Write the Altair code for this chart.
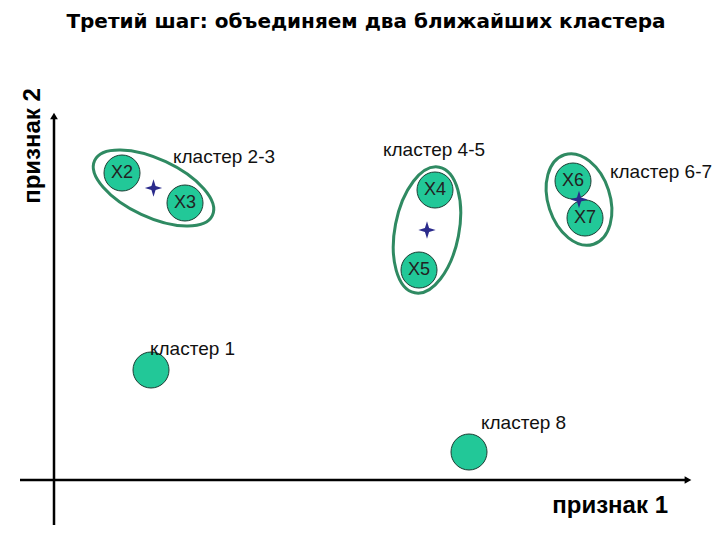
import altair as alt
import pandas as pd

# feature coordinates (origin at axes crossing)
point_names = ["X1", "X2", "X3", "X4", "X5", "X6", "X7", "X8"]
point_x = [97, 68, 131, 381, 365, 519, 531, 415]
point_y = [110, 307, 277, 290, 210, 299, 262, 28]
point_labels = ["", "X2", "X3", "X4", "X5", "X6", "X7", ""]

clusters = ["2-3", "4-5", "6-7"]
cluster_members = [["X2", "X3"], ["X4", "X5"], ["X6", "X7"]]
ell_major = [65, 64, 47]
ell_minor = [29, 32, 31]
ell_angle = [25, 101, 72]

cl_labels = ["кластер 2-3", "кластер 4-5", "кластер 6-7", "кластер 1", "кластер 8"]
cl_label_x = [119, 329, 556, 96, 427]
cl_label_y = [323, 330, 308, 131, 57]

title_text = "Третий шаг: объединяем два ближайших кластера"
xlabel = "признак  1"
ylabel = "признак 2"

pts = pd.DataFrame({"name": point_names, "x": point_x, "y": point_y, "label": point_labels})

cent_rows = []
for c, mem, a, b, ang in zip(clusters, cluster_members, ell_major, ell_minor, ell_angle):
    sub = pts[pts["name"].isin(mem)]
    r = b / a
    path = f"M -1 0 A 1 {r:.4f} 0 1 1 1 0 A 1 {r:.4f} 0 1 1 -1 0 Z"
    cent_rows.append({"cluster": c, "x": sub["x"].mean(), "y": sub["y"].mean(),
                      "path": path, "size": 4 * a * a, "angle": ang})
cent = pd.DataFrame(cent_rows)

labels = pd.DataFrame({"text": cl_labels, "x": cl_label_x, "y": cl_label_y})

xs = alt.Scale(domain=[-46, 658], nice=False, zero=False)
ys = alt.Scale(domain=[-52, 472], nice=False, zero=False)
X = lambda f: alt.X(f, scale=xs, axis=None)
Y = lambda f: alt.Y(f, scale=ys, axis=None)

axes_df = pd.DataFrame({"x": [-34, 0], "x2": [634, 0], "y": [0, -45], "y2": [0, 364]})
axis_lines = alt.Chart(axes_df).mark_rule(color="black", strokeWidth=2.5).encode(
    x=X("x:Q"), x2="x2:Q", y=Y("y:Q"), y2="y2:Q")

arrows_df = pd.DataFrame({"x": [634, 0], "y": [0, 364], "shape": ["triangle-right", "triangle-up"]})
arrows = alt.Chart(arrows_df).mark_point(filled=True, color="black", opacity=1, size=60).encode(
    x=X("x:Q"), y=Y("y:Q"), shape=alt.Shape("shape:N", scale=None))

ellipses = alt.Chart(cent).mark_point(filled=False, stroke="#2f8a62", strokeWidth=3, opacity=1).encode(
    x=X("x:Q"), y=Y("y:Q"), shape=alt.Shape("path:N", scale=None),
    size=alt.Size("size:Q", scale=None), angle=alt.Angle("angle:Q", scale=None))

circles = alt.Chart(pts).mark_point(shape="circle", filled=True, fill="#22c898", stroke="#1d3d33",
                                    strokeWidth=1, opacity=1, size=1296).encode(
    x=X("x:Q"), y=Y("y:Q"))

star = "M 0 -1 L 0.24 -0.24 L 1 0 L 0.24 0.24 L 0 1 L -0.24 0.24 L -1 0 L -0.24 -0.24 Z"
crosses = alt.Chart(cent).mark_point(shape=star, filled=True, color="#2b2b8c", opacity=1, size=300).encode(
    x=X("x:Q"), y=Y("y:Q"))

pt_text = alt.Chart(pts).mark_text(font="Liberation Sans", fontSize=18, color="#222222").encode(
    x=X("x:Q"), y=Y("y:Q"), text="label:N")

cl_text = alt.Chart(labels).mark_text(font="Liberation Sans", fontSize=19, color="#111111",
                                      align="left", baseline="middle").encode(
    x=X("x:Q"), y=Y("y:Q"), text="text:N")

title_df = pd.DataFrame({"text": [title_text], "x": [312], "y": [458]})
title = alt.Chart(title_df).mark_text(font="DejaVu Sans", fontWeight="bold", fontSize=20,
                                      color="black", baseline="middle").encode(
    x=X("x:Q"), y=Y("y:Q"), text="text:N")

xl_df = pd.DataFrame({"text": [xlabel], "x": [614], "y": [-26]})
xl = alt.Chart(xl_df).mark_text(font="Liberation Sans", fontWeight="bold", fontSize=24,
                                color="black", baseline="middle", align="right").encode(
    x=X("x:Q"), y=Y("y:Q"), text="text:N")

yl_df = pd.DataFrame({"text": [ylabel], "x": [-21], "y": [334]})
yl = alt.Chart(yl_df).mark_text(font="Liberation Sans", fontWeight="bold", fontSize=24, angle=270,
                                color="black", baseline="middle").encode(
    x=X("x:Q"), y=Y("y:Q"), text="text:N")

chart = alt.layer(axis_lines, arrows, ellipses, circles, crosses, pt_text, cl_text, title, xl, yl).properties(
    width=704, height=524, padding=0, autosize=alt.AutoSizeParams(type="none")
).configure_view(stroke=None)

chart.save("out.html", embed_options={"renderer": "svg", "actions": False})
